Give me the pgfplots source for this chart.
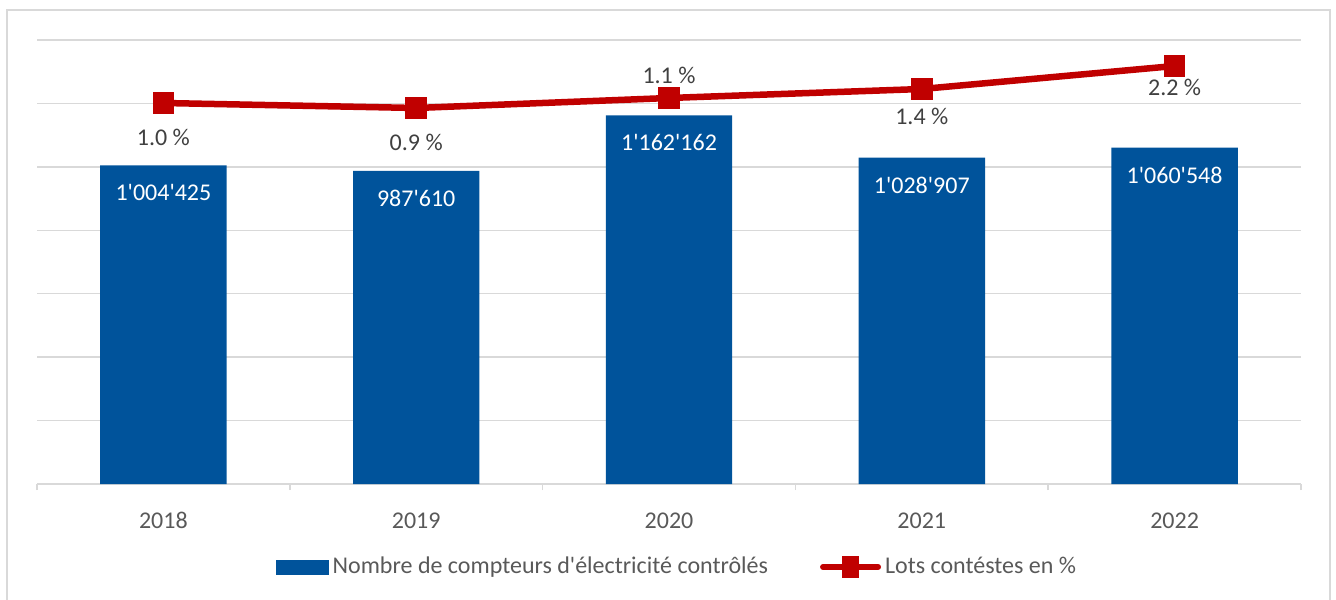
\documentclass[border=0pt]{standalone}
\usepackage{fontspec}
\setmainfont{Carlito}
\usepackage{pgfplots}
\pgfplotsset{compat=1.18}
\usepackage{pgfplotstable}

\definecolor{barblue}{RGB}{0,83,155}
\definecolor{linered}{RGB}{192,0,0}
\definecolor{gridgray}{RGB}{217,217,217}
\definecolor{txtgray}{RGB}{89,89,89}
\definecolor{lblgray}{RGB}{64,64,64}

\newcommand{\q}{\textquotesingle}

% compteurs controles
\pgfplotstableread{
x n lbl
0 1004425 1\q004\q425
1 987610 987\q610
2 1162162 1\q162\q162
3 1028907 1\q028\q907
4 1060548 1\q060\q548
}\bars

% lots contestes (position on hidden secondary axis)
\pgfplotstableread{
x y
0 1.00
1 0.90
2 1.10
3 1.28
4 1.74
}\lots

% label positions for the line
\pgfplotstableread{
x y lbl
0 0.31 1.0~\%
1 0.22 0.9~\%
2 1.56 1.1~\%
3 0.74 1.4~\%
4 1.31 2.2~\%
}\lotslbl

\begin{document}
\begin{tikzpicture}[x=1pt,y=1pt]
\useasboundingbox (-18.5,-57.5) rectangle (649.5,242);
\draw[gridgray, line width=1pt] (-15,-58) -- (-15,237) -- (646.5,237) -- (646.5,-58);

\begin{axis}[
  at={(0,0)}, anchor=south west,
  width=632pt, height=222pt, scale only axis,
  xmin=-0.5, xmax=4.5, ymin=0, ymax=1400000,
  axis lines*=left,
  axis line style={gridgray, line width=0.75pt},
  y axis line style={draw=none},
  ytick={0,200000,...,1400000}, yticklabels={}, ytick style={draw=none},
  scaled y ticks=false,
  ymajorgrids, grid style={gridgray, line width=0.75pt},
  xtick={0,...,4}, xticklabels={2018,2019,2020,2021,2022},
  xtick style={draw=none},
  extra x ticks={-0.5,0.5,...,4.5}, extra x tick labels={},
  extra x tick style={xtick style={draw=gridgray, line width=0.75pt}},
  major tick length=3pt, tick align=outside,
  xticklabel style={anchor=center, yshift=-15.25pt, font=\fontsize{12}{14}\selectfont, text=txtgray},
  /pgf/number format/assume math mode=true,
]
\addplot[ybar, bar width=0.5, fill=barblue, draw=none,
  point meta=explicit symbolic, nodes near coords,
  every node near coord/.append style={anchor=center, yshift=-13.75pt, text=white, font=\fontsize{12}{14}\selectfont}]
  table[x=x, y=n, meta=lbl] {\bars};
\end{axis}

\begin{axis}[
  at={(0,0)}, anchor=south west,
  width=632pt, height=222pt, scale only axis,
  xmin=-0.5, xmax=4.5, ymin=-6.62, ymax=2.26,
  hide axis, clip=false,
  legend columns=2,
  legend style={at={(0.5,0)}, anchor=center, xshift=4.5pt, yshift=-41.5pt, draw=none, fill=none,
    font=\fontsize{12}{14}\selectfont, text=txtgray,
    /tikz/every even column/.append style={column sep=24pt}},
]
\addlegendimage{legend image code/.code={\fill[barblue] (0pt,-3.5pt) rectangle (26pt,3.5pt);}}
\addlegendentry{Nombre de compteurs d\q électricité contrôlés}
\addplot[linered, line width=3.25pt, mark=square*, mark size=3.75pt,
  mark options={solid, draw=none, fill=linered},
  legend image code/.code={\draw[linered, line width=3pt, line cap=round] (0pt,0pt) -- (27.5pt,0pt);
    \fill[linered] (11pt,-4pt) rectangle (16.5pt,4pt);}]
  table[x=x, y=y] {\lots};
\addlegendentry{Lots contéstes en \%}
\addplot[draw=none, mark=none, point meta=explicit symbolic, nodes near coords,
  every node near coord/.append style={anchor=center, text=lblgray, font=\fontsize{12}{14}\selectfont},
  forget plot]
  table[x=x, y=y, meta=lbl] {\lotslbl};
\end{axis}
\end{tikzpicture}
\end{document}
